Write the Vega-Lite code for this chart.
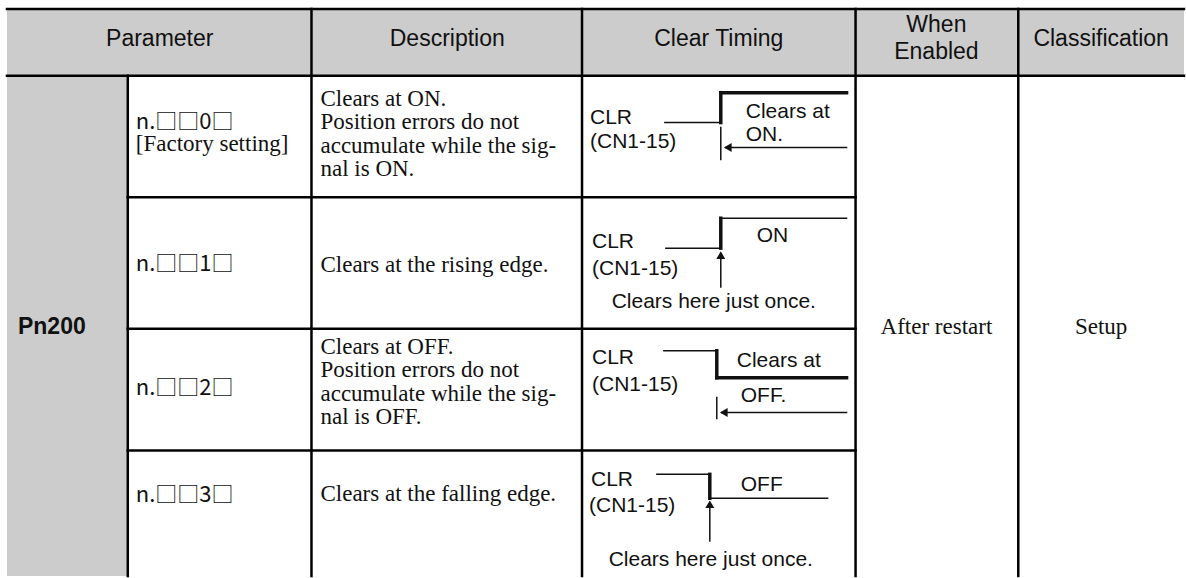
{
  "$schema": "https://vega.github.io/schema/vega-lite/v6.json",
  "width": 1186,
  "height": 578,
  "autosize": {"type": "fit", "contains": "padding"},
  "padding": 0,
  "background": "white",
  "config": {"view": {"stroke": null}},
  "datasets": {
    "fills": [
      {"x": 7, "x2": 1186, "y": 9, "y2": 76},
      {"x": 7, "x2": 128, "y": 76, "y2": 578}
    ],
    "grid": [
      {"x": 7, "x2": 1186, "y": 9, "y2": 9},
      {"x": 7, "x2": 1186, "y": 76, "y2": 76},
      {"x": 128, "x2": 857, "y": 198, "y2": 198},
      {"x": 128, "x2": 857, "y": 330, "y2": 330},
      {"x": 128, "x2": 857, "y": 452, "y2": 452},
      {"x": 128, "x2": 128, "y": 76, "y2": 578},
      {"x": 312, "x2": 312, "y": 9, "y2": 578},
      {"x": 583, "x2": 583, "y": 9, "y2": 578},
      {"x": 857, "x2": 857, "y": 9, "y2": 578},
      {"x": 1020, "x2": 1020, "y": 9, "y2": 578}
    ],
    "signals": [
      {"x": 666, "x2": 722, "y": 123, "y2": 123, "weight": "thin"},
      {"x": 722, "x2": 722, "y": 123, "y2": 93, "weight": "thick"},
      {"x": 722, "x2": 848, "y": 93, "y2": 93, "weight": "thick"},
      {"x": 722, "x2": 722, "y": 128, "y2": 160, "weight": "thin"},
      {"x": 727, "x2": 848, "y": 148, "y2": 148, "weight": "thin"},
      {"x": 667, "x2": 722, "y": 249, "y2": 249, "weight": "thin"},
      {"x": 722, "x2": 722, "y": 249, "y2": 219, "weight": "thick"},
      {"x": 722, "x2": 848, "y": 219, "y2": 219, "weight": "thin"},
      {"x": 722, "x2": 722, "y": 255, "y2": 288, "weight": "thin"},
      {"x": 665, "x2": 718, "y": 352, "y2": 352, "weight": "thin"},
      {"x": 718, "x2": 718, "y": 352, "y2": 379, "weight": "thick"},
      {"x": 718, "x2": 848, "y": 379, "y2": 379, "weight": "thick"},
      {"x": 718, "x2": 718, "y": 399, "y2": 420, "weight": "thin"},
      {"x": 723, "x2": 848, "y": 414, "y2": 414, "weight": "thin"},
      {"x": 658, "x2": 711, "y": 476, "y2": 476, "weight": "thin"},
      {"x": 711, "x2": 711, "y": 476, "y2": 500, "weight": "thick"},
      {"x": 711, "x2": 829, "y": 500, "y2": 500, "weight": "thin"},
      {"x": 711, "x2": 711, "y": 505, "y2": 543, "weight": "thin"}
    ],
    "arrows": [
      {"x": 729, "y": 148, "dir": "left"},
      {"x": 722, "y": 256, "dir": "up"},
      {"x": 725, "y": 414, "dir": "left"},
      {"x": 711, "y": 506, "dir": "up"}
    ],
    "headers": [
      {"x": 160, "y": 39, "label": "Parameter"},
      {"x": 448, "y": 39, "label": "Description"},
      {"x": 720, "y": 39, "label": "Clear Timing"},
      {"x": 938, "y": 25, "label": "When\nEnabled"},
      {"x": 1103, "y": 39, "label": "Classification"}
    ],
    "group": [
      {"x": 18, "y": 328, "label": "Pn200"}
    ],
    "params": [
      {"x": 136, "y": 122, "label": "n.□□0□"},
      {"x": 136, "y": 265, "label": "n.□□1□"},
      {"x": 136, "y": 389, "label": "n.□□2□"},
      {"x": 136, "y": 497, "label": "n.□□3□"}
    ],
    "serifLeft": [
      {"x": 136, "y": 145, "label": "[Factory setting]"},
      {"x": 321, "y": 99, "label": "Clears at ON.\nPosition errors do not\naccumulate while the sig-\nnal is ON."},
      {"x": 321, "y": 266, "label": "Clears at the rising edge."},
      {"x": 321, "y": 348, "label": "Clears at OFF.\nPosition errors do not\naccumulate while the sig-\nnal is OFF."},
      {"x": 321, "y": 496, "label": "Clears at the falling edge."}
    ],
    "serifCenter": [
      {"x": 938, "y": 328, "label": "After restart"},
      {"x": 1103, "y": 328, "label": "Setup"}
    ],
    "diagLeft": [
      {"x": 591, "y": 118, "label": "CLR"},
      {"x": 591, "y": 142, "label": "(CN1-15)"},
      {"x": 593, "y": 243, "label": "CLR"},
      {"x": 593, "y": 270, "label": "(CN1-15)"},
      {"x": 593, "y": 359, "label": "CLR"},
      {"x": 593, "y": 386, "label": "(CN1-15)"},
      {"x": 592, "y": 482, "label": "CLR"},
      {"x": 590, "y": 508, "label": "(CN1-15)"},
      {"x": 747, "y": 112, "label": "Clears at"},
      {"x": 747, "y": 135, "label": "ON."},
      {"x": 758, "y": 237, "label": "ON"},
      {"x": 738, "y": 362, "label": "Clears at"},
      {"x": 742, "y": 397, "label": "OFF."},
      {"x": 742, "y": 487, "label": "OFF"}
    ],
    "diagCenter": [
      {"x": 715, "y": 303, "label": "Clears here just once."},
      {"x": 712, "y": 562, "label": "Clears here just once."}
    ]
  },
  "encoding": {
    "x": {"field": "x", "type": "quantitative", "scale": {"domain": [0, 1186], "nice": false, "zero": false}, "axis": null},
    "y": {"field": "y", "type": "quantitative", "scale": {"domain": [0, 578], "nice": false, "zero": false, "reverse": true}, "axis": null}
  },
  "layer": [
    {
      "data": {"name": "fills"},
      "mark": {"type": "rect", "fill": "#cccccc"},
      "encoding": {"x2": {"field": "x2"}, "y2": {"field": "y2"}}
    },
    {
      "data": {"name": "grid"},
      "mark": {"type": "rule", "color": "#000000", "strokeWidth": 2.5, "strokeCap": "square"},
      "encoding": {"x2": {"field": "x2"}, "y2": {"field": "y2"}}
    },
    {
      "data": {"name": "signals"},
      "mark": {"type": "rule", "color": "#111111", "strokeCap": "square"},
      "encoding": {
        "x2": {"field": "x2"},
        "y2": {"field": "y2"},
        "strokeWidth": {"field": "weight", "type": "nominal", "scale": {"domain": ["thin", "thick"], "range": [1.5, 3.5]}, "legend": null}
      }
    },
    {
      "data": {"name": "arrows"},
      "mark": {"type": "point", "filled": true, "color": "#111111", "size": 80, "opacity": 1},
      "encoding": {
        "shape": {"field": "dir", "type": "nominal", "scale": {"domain": ["left", "up"], "range": ["triangle-left", "triangle-up"]}, "legend": null}
      }
    },
    {
      "data": {"name": "headers"},
      "mark": {"type": "text", "font": "Liberation Sans", "fontSize": 23, "align": "center", "baseline": "middle", "lineBreak": "\n", "lineHeight": 27, "color": "#111111"},
      "encoding": {"text": {"field": "label"}}
    },
    {
      "data": {"name": "group"},
      "mark": {"type": "text", "font": "Liberation Sans", "fontSize": 23, "fontWeight": "bold", "align": "left", "baseline": "middle", "color": "#111111"},
      "encoding": {"text": {"field": "label"}}
    },
    {
      "data": {"name": "params"},
      "mark": {"type": "text", "font": "Noto Sans CJK JP", "fontSize": 22, "align": "left", "baseline": "middle", "color": "#111111"},
      "encoding": {"text": {"field": "label"}}
    },
    {
      "data": {"name": "serifLeft"},
      "mark": {"type": "text", "font": "Liberation Serif", "fontSize": 23, "align": "left", "baseline": "middle", "lineBreak": "\n", "lineHeight": 23.5, "color": "#111111"},
      "encoding": {"text": {"field": "label"}}
    },
    {
      "data": {"name": "serifCenter"},
      "mark": {"type": "text", "font": "Liberation Serif", "fontSize": 23, "align": "center", "baseline": "middle", "color": "#111111"},
      "encoding": {"text": {"field": "label"}}
    },
    {
      "data": {"name": "diagLeft"},
      "mark": {"type": "text", "font": "Liberation Sans", "fontSize": 21, "align": "left", "baseline": "middle", "color": "#111111"},
      "encoding": {"text": {"field": "label"}}
    },
    {
      "data": {"name": "diagCenter"},
      "mark": {"type": "text", "font": "Liberation Sans", "fontSize": 21, "align": "center", "baseline": "middle", "color": "#111111"},
      "encoding": {"text": {"field": "label"}}
    }
  ]
}
